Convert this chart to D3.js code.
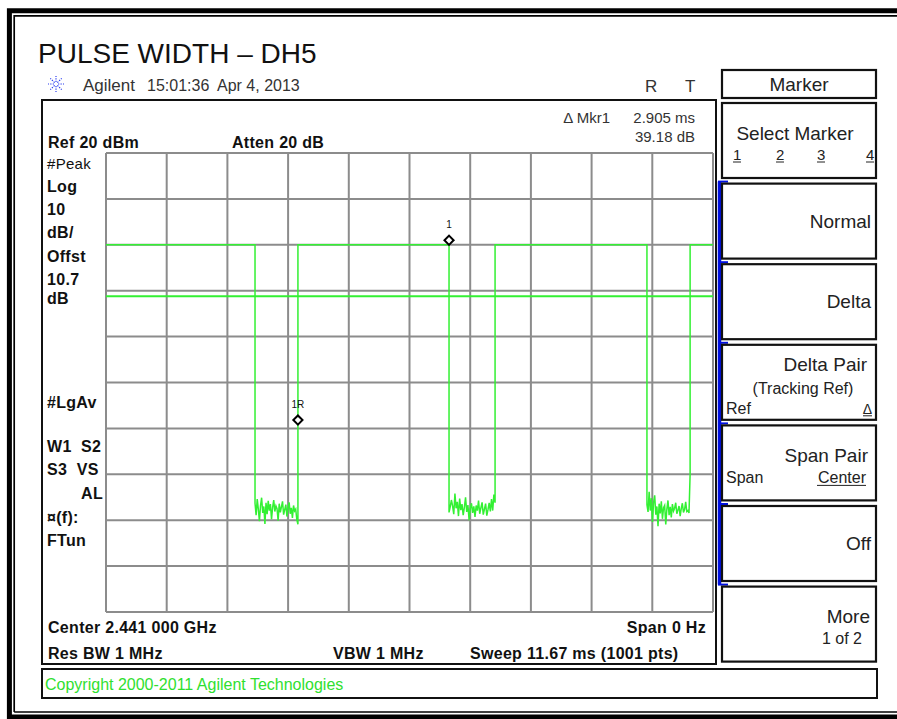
<!DOCTYPE html>
<html>
<head>
<meta charset="utf-8">
<script src="https://cdn.jsdelivr.net/npm/d3@7"></script>
<style>
  body { margin: 0; background: #fff; overflow: hidden; }
  svg { display: block; }
  text { font-family: "Liberation Sans", Arial, sans-serif; fill: #111; }
</style>
</head>
<body>
<svg id="chart" width="897" height="719"></svg>
<script>
// sweep / amplitude settings
const sweepMs = 11.67;
const refLevel = 20;
const dbPerDiv = 10;
const divisions = 10;
const highLevel = 0;
const displayLine = -11.2;

// burst-off gaps (ms) and the noise floor read inside each gap (dBm)
const gapFalls = [2.865, 6.595, 10.40];
const gapRises = [3.69, 7.48, 11.23];
const gapNoise = [
    [-56.3, -58.9, -55.4, -57.6, -60.2, -56.8, -55.1, -58.4, -57.0, -60.8, -56.2, -58.7, -55.8, -57.9, -56.5, -59.8, -57.2, -55.6, -58.1, -56.9,
     -57.5, -60.1, -56.4, -58.3, -57.1, -55.9, -58.8, -57.7, -56.6, -59.2, -57.4, -56.1, -58.6, -57.3, -59.5, -56.8, -58.0, -57.6, -59.9, -60.9],
    [-58.3, -57.1, -55.6, -56.9, -58.7, -54.2, -57.4, -56.0, -59.1, -55.3, -57.8, -56.5, -58.9, -57.2, -55.0, -58.2, -56.7, -60.0, -57.5, -56.3,
     -58.4, -57.0, -59.3, -56.8, -57.9, -55.7, -58.6, -57.3, -56.1, -58.8, -57.6, -56.4, -59.0, -57.7, -56.2, -58.1, -55.4, -57.9, -54.4, -56.2],
    [-56.6, -58.2, -53.8, -57.9, -55.2, -60.4, -56.1, -54.6, -58.8, -57.0, -61.3, -56.4, -58.5, -55.9, -59.7, -57.3, -56.8, -60.9, -57.6, -55.7,
     -58.9, -57.1, -59.4, -56.5, -58.0, -57.4, -56.2, -58.6, -57.8, -56.9, -59.1, -57.5, -56.3, -58.3, -57.7, -56.0, -58.1, -57.9, -58.4, -50.0]
];

const markerLabels = ['1R', '1'];
const markerTimes = [3.69, 6.595];
const markerValues = [-38.18, 1.0];

const leftLabels = ['#Peak', 'Log', '10', 'dB/', 'Offst', '10.7', 'dB'];
const statusLabels = ['#LgAv', 'W1  S2', 'S3  VS', 'AL', '\u00a4(f):', 'FTun'];
const softkeys = ['Select Marker', 'Normal', 'Delta', 'Delta Pair', 'Span Pair', 'Off', 'More'];

const svg = d3.select('#chart');
const green = '#33f033';

const x = d3.scaleLinear().domain([0, sweepMs]).range([106, 713]);
const y = d3.scaleLinear().domain([refLevel - dbPerDiv * divisions, refLevel]).range([612, 153]);

// outer double frame (right side is off the picture)
svg.append('path').attr('d', 'M 9.4 730 V 10.8 H 920 M 9.4 717 H 920')
    .attr('fill', 'none').attr('stroke', '#000').attr('stroke-width', 5);
svg.append('path').attr('d', 'M 14.2 712 V 15.9 H 920 M 14.2 712 H 920')
    .attr('fill', 'none').attr('stroke', '#000').attr('stroke-width', 1.7);

// title + header
svg.append('text').attr('x', 38).attr('y', 63).attr('font-size', 28).text('PULSE WIDTH \u2013 DH5');

const icon = svg.append('g').attr('transform', 'translate(56,84)');
d3.range(8).forEach(i => {
    const a = i * Math.PI / 4;
    icon.append('line')
        .attr('x1', 2 * Math.cos(a)).attr('y1', 2 * Math.sin(a))
        .attr('x2', 8 * Math.cos(a)).attr('y2', 8 * Math.sin(a))
        .attr('stroke', '#2a3cf0').attr('stroke-width', 1.2).attr('stroke-dasharray', '1.3,1.2');
});
svg.append('text').attr('x', 83).attr('y', 91).attr('font-size', 17).style('fill', '#333').text('Agilent');
svg.append('text').attr('x', 147).attr('y', 91).attr('font-size', 16).style('fill', '#333').text('15:01:36');
svg.append('text').attr('x', 217).attr('y', 91).attr('font-size', 16).style('fill', '#333').text('Apr 4, 2013');
svg.append('text').attr('x', 645).attr('y', 92).attr('font-size', 17).style('fill', '#333').text('R');
svg.append('text').attr('x', 685).attr('y', 92).attr('font-size', 17).style('fill', '#333').text('T');

// display box
svg.append('rect').attr('x', 42).attr('y', 100).attr('width', 674).attr('height', 564)
    .attr('fill', 'none').attr('stroke', '#111').attr('stroke-width', 2);

svg.append('text').attr('x', 610).attr('y', 123).attr('font-size', 15).attr('text-anchor', 'end').style('fill', '#333').text('\u0394 Mkr1');
svg.append('text').attr('x', 695).attr('y', 123).attr('font-size', 15).attr('text-anchor', 'end').style('fill', '#333').text('2.905 ms');
svg.append('text').attr('x', 695).attr('y', 142).attr('font-size', 15).attr('text-anchor', 'end').style('fill', '#333').text('39.18 dB');

const bold = (tx, ty, str, anchor) => svg.append('text')
    .attr('x', tx).attr('y', ty).attr('font-size', 16).attr('font-weight', 'bold')
    .attr('letter-spacing', 0.3).attr('text-anchor', anchor || 'start').text(str);

bold(48, 148, 'Ref 20 dBm');
bold(232, 148, 'Atten 20 dB');

// left annotations
const leftY = [169, 192, 215, 238, 262, 285, 304];
leftLabels.forEach((t, i) => {
    const el = bold(47, leftY[i], t);
    if (i === 0) el.attr('font-weight', 'normal').attr('font-size', 15);
});
const statusY = [408, 452, 475, 499, 523, 546];
statusLabels.forEach((t, i) => {
    if (t === 'AL') bold(103, statusY[i], t, 'end');
    else bold(47, statusY[i], t).style('white-space', 'pre').attr('xml:space', 'preserve');
});

// bottom annotations
bold(48, 633, 'Center 2.441 000 GHz');
bold(706, 633, 'Span 0 Hz', 'end');
bold(48, 659, 'Res BW 1 MHz');
bold(333, 659, 'VBW 1 MHz');
bold(470, 659, 'Sweep 11.67 ms (1001 pts)');

// graticule
const grid = svg.append('g').attr('stroke', '#8c8c8c').attr('stroke-width', 2);
d3.range(divisions + 1).forEach(i => {
    const gx = x(i * sweepMs / divisions);
    grid.append('line').attr('x1', gx).attr('x2', gx).attr('y1', y.range()[1]).attr('y2', y.range()[0]);
});
d3.range(refLevel - dbPerDiv * divisions, refLevel + 1, dbPerDiv).forEach(v => {
    grid.append('line').attr('x1', x.range()[0]).attr('x2', x.range()[1]).attr('y1', y(v)).attr('y2', y(v));
});

// display line
svg.append('line').attr('x1', x(0)).attr('x2', x(sweepMs)).attr('y1', y(displayLine)).attr('y2', y(displayLine))
    .attr('stroke', green).attr('stroke-width', 2);

// trace
const trace = [[0, highLevel]];
gapFalls.forEach((fall, g) => {
    const rise = gapRises[g];
    const noise = gapNoise[g];
    trace.push([fall, highLevel]);
    noise.forEach((v, i) => trace.push([fall + (rise - fall) * i / (noise.length - 1), v]));
    trace.push([rise, highLevel]);
});
trace.push([sweepMs, highLevel]);

svg.append('path')
    .attr('d', d3.line().x(d => x(d[0])).y(d => y(d[1]))(trace))
    .attr('fill', 'none').attr('stroke', green).attr('stroke-width', 1.5);

// markers
markerLabels.forEach((lab, i) => {
    const mx = x(markerTimes[i]), my = y(markerValues[i]);
    svg.append('path')
        .attr('d', d3.symbol(d3.symbolSquare, 42)())
        .attr('transform', `translate(${mx},${my}) rotate(45)`)
        .attr('fill', '#fff').attr('stroke', '#000').attr('stroke-width', 2);
    svg.append('text').attr('x', mx).attr('y', my - 12).attr('text-anchor', 'middle')
        .attr('font-size', 10).attr('font-family', 'DejaVu Sans Mono').text(lab);
});

// copyright bar
svg.append('rect').attr('x', 42).attr('y', 669).attr('width', 835).attr('height', 29)
    .attr('fill', 'none').attr('stroke', '#111').attr('stroke-width', 2);
svg.append('text').attr('x', 45).attr('y', 690).attr('font-size', 16).style('fill', '#2fe02f')
    .text('Copyright 2000-2011 Agilent Technologies');

// soft key panel
const keyX = 722, keyW = 154, keyTop = 103, keyPitch = 80.6, keyH = 75;
svg.append('rect').attr('x', keyX).attr('y', 70).attr('width', keyW).attr('height', 28)
    .attr('fill', 'none').attr('stroke', '#111').attr('stroke-width', 2.2);
svg.append('text').attr('x', 799).attr('y', 91).attr('font-size', 19).attr('text-anchor', 'middle').style('fill', '#222').text('Marker');

// blue active bracket
const bracketTop = keyTop + keyPitch - 2, bracketBot = keyTop + keyPitch * 6 - 2;
svg.append('line').attr('x1', 719.5).attr('x2', 719.5).attr('y1', bracketTop).attr('y2', bracketBot)
    .attr('stroke', '#0010e0').attr('stroke-width', 3.5);
d3.range(6).forEach(i => {
    const by = bracketTop + keyPitch * i;
    svg.append('line').attr('x1', 718).attr('x2', 728).attr('y1', by).attr('y2', by)
        .attr('stroke', '#0010e0').attr('stroke-width', 2);
});

const keyText = (tx, ty, str, size, anchor) => svg.append('text')
    .attr('x', tx).attr('y', ty).attr('font-size', size).attr('text-anchor', anchor || 'end')
    .style('fill', '#222').text(str);
const underline = (x1, x2, uy) => svg.append('line').attr('x1', x1).attr('x2', x2).attr('y1', uy).attr('y2', uy)
    .attr('stroke', '#222').attr('stroke-width', 1);

softkeys.forEach((name, i) => {
    const top = keyTop + keyPitch * i;
    svg.append('rect').attr('x', keyX).attr('y', top).attr('width', keyW).attr('height', keyH)
        .attr('fill', 'none').attr('stroke', '#111').attr('stroke-width', 2.2);
    if (name === 'Select Marker') {
        keyText(795, top + 37, name, 19, 'middle');
        [['1', 733], ['2', 776], ['3', 817], ['4', 866]].forEach(d => {
            keyText(d[1], top + 57, d[0], 15, 'start');
            underline(d[1], d[1] + 8, top + 59);
        });
    } else if (name === 'Delta Pair') {
        keyText(867, top + 26, name, 19);
        keyText(803, top + 49, '(Tracking Ref)', 16, 'middle');
        keyText(726, top + 69, 'Ref', 16, 'start');
        keyText(872, top + 69, '\u0394', 14);
        underline(863, 872, top + 71);
    } else if (name === 'Span Pair') {
        keyText(868, top + 37, name, 19);
        keyText(726, top + 58, 'Span', 16, 'start');
        keyText(866, top + 58, 'Center', 16);
        underline(817, 866, top + 60);
    } else if (name === 'More') {
        keyText(870, top + 36, name, 19);
        keyText(862, top + 57, '1 of 2', 16);
    } else {
        keyText(871, top + 44, name, 19);
    }
});
</script>
</body>
</html>
